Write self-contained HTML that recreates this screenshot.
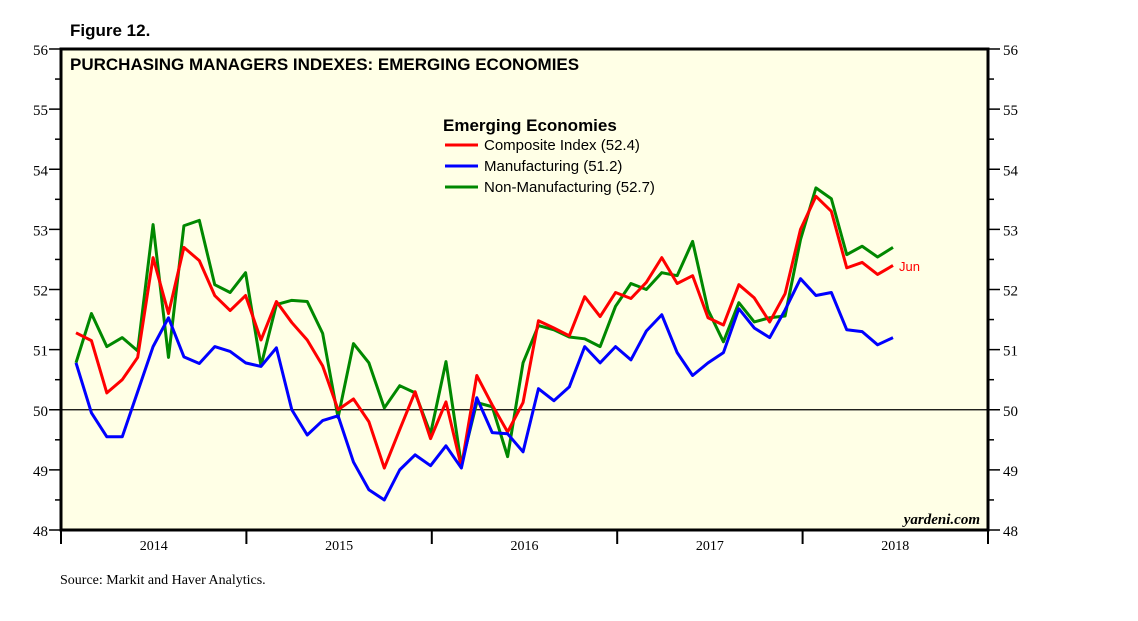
<!DOCTYPE html>
<html><head><meta charset="utf-8"><style>
body{margin:0;background:#fff;width:1138px;height:621px;overflow:hidden}
svg{display:block}
text{font-family:"Liberation Serif",serif}
.s{font-family:"Liberation Sans",sans-serif}
</style></head><body>
<svg id="c" width="1138" height="621">
<text x="70" y="36" class="s" font-size="17" font-weight="bold">Figure 12.</text>
<rect x="61" y="49" width="927" height="481" fill="#FFFFE6" stroke="#000" stroke-width="3"/>
<text x="70" y="70" class="s" font-size="17" font-weight="bold">PURCHASING MANAGERS INDEXES: EMERGING ECONOMIES</text>
<g id="axes"></g>
<g id="series"></g>
<g>
<text x="443" y="131" class="s" font-size="17" font-weight="bold">Emerging Economies</text>
<line x1="445" y1="145" x2="478" y2="145" stroke="#f00" stroke-width="3"/>
<text x="484" y="150" class="s" font-size="15">Composite Index (52.4)</text>
<line x1="445" y1="166" x2="478" y2="166" stroke="#00f" stroke-width="3"/>
<text x="484" y="171" class="s" font-size="15">Manufacturing (51.2)</text>
<line x1="445" y1="187" x2="478" y2="187" stroke="#080" stroke-width="3"/>
<text x="484" y="192" class="s" font-size="15">Non-Manufacturing (52.7)</text>
</g>
<text x="899" y="271" class="s" font-size="13" fill="#f00">Jun</text>
<text x="980" y="524" font-size="15" font-style="italic" font-weight="bold" text-anchor="end">yardeni.com</text>
<text x="60" y="584" font-size="14">Source:  Markit and Haver Analytics.</text>
</svg>
<script>
const yTicks=[48,49,50,51,52,53,54,55,56];
const years=["2014","2015","2016","2017","2018"];
const composite=[51.28,51.15,50.28,50.5,50.87,52.53,51.6,52.7,52.48,51.9,51.65,51.9,51.16,51.8,51.45,51.16,50.73,50.0,50.18,49.8,49.03,
49.67,50.3,49.52,50.13,49.05,50.57,50.08,49.63,50.12,51.48,51.36,51.23,51.88,51.55,51.95,51.85,52.12,
52.53,52.1,52.23,51.53,51.41,52.08,51.86,51.46,51.93,53.0,53.55,53.3,52.36,52.45,52.25,52.4];
const manufacturing=[50.78,49.95,49.55,49.55,50.3,51.05,51.53,50.88,50.77,51.05,50.97,50.78,50.72,51.03,50.0,49.58,49.82,49.9,49.13,48.67,48.5,
49.0,49.25,49.07,49.4,49.03,50.2,49.62,49.6,49.3,50.35,50.15,50.38,51.05,50.78,51.05,50.83,51.31,
51.58,50.95,50.57,50.78,50.95,51.68,51.36,51.2,51.66,52.18,51.9,51.95,51.33,51.3,51.08,51.2];
const nonManufacturing=[50.78,51.6,51.05,51.2,50.98,53.08,50.87,53.06,53.15,52.08,51.95,52.28,50.73,51.75,51.82,51.8,51.27,49.87,51.1,50.78,50.03,
50.4,50.28,49.6,50.8,49.08,50.12,50.05,49.22,50.78,51.4,51.33,51.21,51.18,51.05,51.72,52.1,52.0,
52.28,52.23,52.8,51.66,51.13,51.78,51.46,51.53,51.56,52.83,53.69,53.51,52.58,52.72,52.54,52.7];
const NS="http://www.w3.org/2000/svg";
const X0=61,X1=988,Y0=530,Y1=49,yw=(X1-X0)/5;
const y=v=>Y0-(v-48)/(56-48)*(Y0-Y1);
const x=i=>76+i*(817/53);
function mk(t,a,p){const e=document.createElementNS(NS,t);for(const k in a)e.setAttribute(k,a[k]);p.appendChild(e);return e;}
const ax=document.getElementById('axes');
yTicks.forEach(v=>{
 const yy=y(v);
 const l=mk('line',{x1:X0-12,x2:X0,y1:yy,y2:yy,stroke:'#000','stroke-width':1.5},ax);
 
 
 const r=mk('line',{x1:X1,x2:X1+12,y1:yy,y2:yy,stroke:'#000','stroke-width':1.5},ax);
 
 
 if(v<56){const y2=y(v+0.5);mk('line',{x1:X0-6,x2:X0,y1:y2,y2:y2,stroke:'#000','stroke-width':1.5},ax);mk('line',{x1:X1,x2:X1+6,y1:y2,y2:y2,stroke:'#000','stroke-width':1.5},ax);}
 const t=mk('text',{x:X0-13,y:yy+6,'font-size':15,'text-anchor':'end'},ax);t.textContent=v;
 
 
 const t2=mk('text',{x:X1+15,y:yy+6,'font-size':15},ax);t2.textContent=v;
 
 
});
const zl=mk('line',{x1:X0,x2:X1,y1:y(50),y2:y(50),stroke:'#000','stroke-width':1.2},ax);


for(let k=0;k<=5;k++){
 const xx=X0+k*yw;
 mk('line',{x1:xx,x2:xx,y1:Y0,y2:Y0+14,stroke:'#000','stroke-width':2},ax);
}
years.forEach((yr,i)=>{
 const t=mk('text',{x:X0+(i+0.5)*yw,y:550,'font-size':14,'text-anchor':'middle'},ax);t.textContent=yr;
 
 
});
const sg=document.getElementById('series');
[[nonManufacturing,'#080','line-nonmanufacturing'],[composite,'#f00','line-composite'],[manufacturing,'#00f','line-manufacturing']].forEach(([d,c,n])=>{
 const p=mk('polyline',{points:d.map((v,i)=>x(i)+','+y(v)).join(' '),fill:'none',stroke:c,'stroke-width':3,'stroke-linejoin':'round'},sg);
 
 
});
</script>
</body></html>
